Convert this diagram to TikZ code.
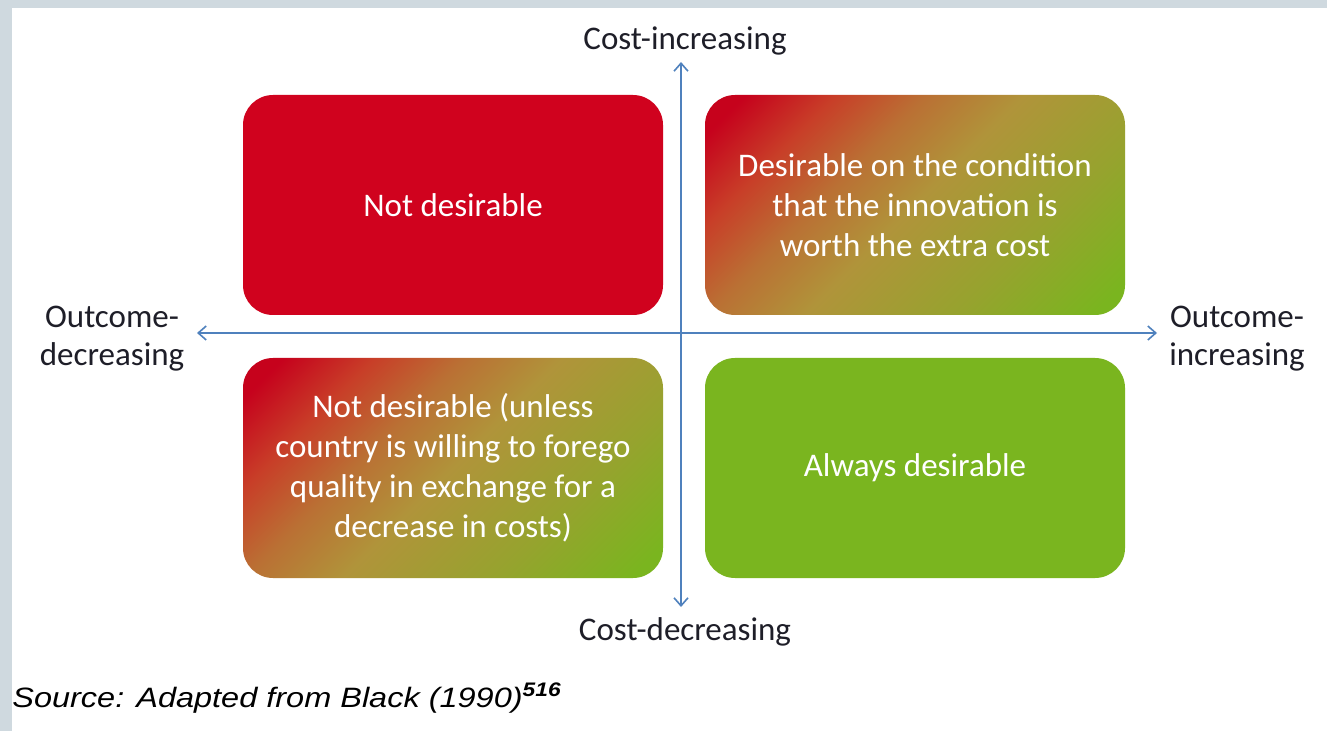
\documentclass[tikz,border=0pt]{standalone}
\usepackage{fontspec}
\setmainfont{Carlito}
\newfontfamily\arialfont{Liberation Sans}
\usetikzlibrary{arrows.meta}
\definecolor{framegray}{RGB}{207,217,223}
\definecolor{boxred}{RGB}{208,2,30}
\definecolor{boxgreen}{RGB}{122,181,31}
\definecolor{boxolive}{RGB}{176,148,58}
\definecolor{boxbrown}{RGB}{186,112,52}
\definecolor{boxrust}{RGB}{200,62,40}
\definecolor{boxlime}{RGB}{150,163,46}
\definecolor{axisblue}{RGB}{79,129,189}
\definecolor{labelink}{RGB}{30,30,40}

% red corner to green corner, laid along the diagonal
\pgfdeclareverticalshading{quadmix}{100bp}{color(0bp)=(boxgreen); color(18bp)=(boxgreen);
    color(33bp)=(boxlime); color(50bp)=(boxolive); color(61bp)=(boxbrown);
    color(71bp)=(boxrust); color(81bp)=(boxred!95!black); color(100bp)=(boxred!95!black)}

\begin{document}
\begin{tikzpicture}[x=0.5pt,y=-0.5pt,
    quad/.style={rounded corners=15pt, minimum width=210pt, minimum height=110pt,
        align=center, text=white, font=\fontsize{16.5}{20}\selectfont, inner sep=0pt},
    mixed/.style={quad, shading=quadmix, shading angle=45},
    axislabel/.style={text=labelink, align=center, font=\fontsize{16.5}{19}\selectfont},
    axis/.style={axisblue, line width=0.8pt, {Straight Barb[length=4pt,width=7pt]}-{Straight Barb[length=4pt,width=7pt]}}]
    % frame
    \fill[framegray] (0,0) rectangle (1327,731);
    \fill[white] (12,8) rectangle (1327,731);

    % four quadrants
    \node[quad, fill=boxred] (nd) at (453,205) {Not desirable};
    \node[mixed] (cond) at (915,205) {Desirable on the condition\\that the innovation is\\worth the extra cost};
    \node[mixed] (unless) at (453,468) {Not desirable (unless\\country is willing to forego\\quality in exchange for a\\decrease in costs)};
    \node[quad, fill=boxgreen] (always) at (915,468) {Always desirable};

    % axes
    \coordinate (ctop) at (681,62);
    \coordinate (cbot) at (681,607);
    \coordinate (oleft) at (197,333);
    \coordinate (oright) at (1157,333);
    \draw[axis] (cbot) -- (ctop);
    \draw[axis] (oleft) -- (oright);

    \node[axislabel] (costinc) at (685,41) {Cost-increasing};
    \node[axislabel] (costdec) at (685,632) {Cost-decreasing};
    \node[axislabel] (outdec) at (112,339) {Outcome-\\decreasing};
    \node[axislabel] (outinc) at (1237,339) {Outcome-\\increasing};

    \node[anchor=west, inner sep=0pt, font=\arialfont\itshape\fontsize{14}{16}\selectfont] (src)
        at (12,698) {\scalebox{1.16}[1]{Source: Adapted from Black (1990)\textsuperscript{\bfseries 516}}};
\end{tikzpicture}
\end{document}
